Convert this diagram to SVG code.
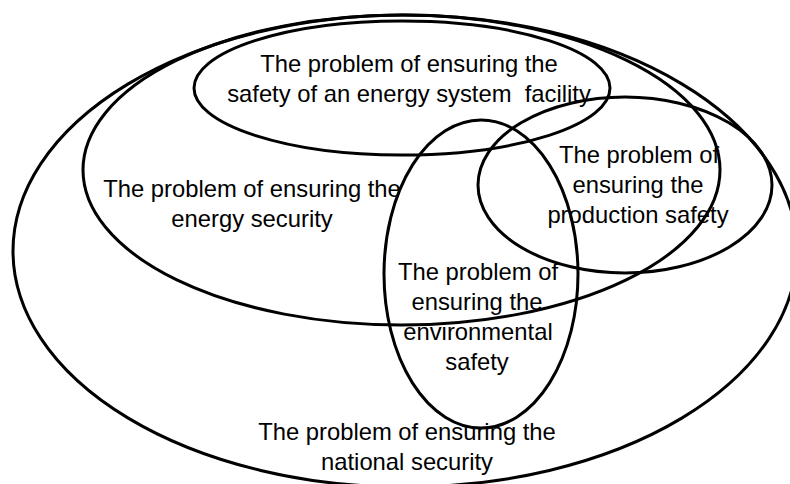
<svg xmlns="http://www.w3.org/2000/svg" width="790" height="484" viewBox="0 0 790 484">
  <style>
    .ring { fill: none; stroke: #000; stroke-width: 3; }
    .lbl { font-family: "Liberation Sans", Arial, sans-serif; font-size: 23.8px; fill: #000; text-anchor: middle; }
  </style>
  <rect width="790" height="484" fill="#fff"/>

  <!-- national security: outermost set -->
  <g id="national-security">
    <ellipse class="ring" cx="405" cy="251" rx="392" ry="236"/>
    <text class="lbl" x="407" y="440">The problem of ensuring the</text>
    <text class="lbl" x="407" y="470">national security</text>
  </g>

  <!-- energy security -->
  <g id="energy-security">
    <ellipse class="ring" cx="401.5" cy="170" rx="318.5" ry="155"/>
    <text class="lbl" x="252" y="197">The problem of ensuring the</text>
    <text class="lbl" x="252" y="227">energy security</text>
  </g>

  <!-- energy system facility -->
  <g id="facility-safety">
    <ellipse class="ring" cx="402" cy="88" rx="208" ry="67"/>
    <text class="lbl" x="409" y="72">The problem of ensuring the</text>
    <text class="lbl" x="409" y="102" xml:space="preserve">safety of an energy system  facility</text>
  </g>

  <!-- production safety -->
  <g id="production-safety">
    <ellipse class="ring" cx="625" cy="185" rx="147" ry="88"/>
    <text class="lbl" x="639" y="163">The problem of</text>
    <text class="lbl" x="638" y="193">ensuring the</text>
    <text class="lbl" x="638" y="223">production safety</text>
  </g>

  <!-- environmental safety -->
  <g id="environmental-safety">
    <ellipse class="ring" cx="481" cy="274" rx="97" ry="154"/>
    <text class="lbl" x="478" y="280">The problem of</text>
    <text class="lbl" x="477" y="310">ensuring the</text>
    <text class="lbl" x="478" y="340">environmental</text>
    <text class="lbl" x="477" y="370">safety</text>
  </g>

  <!-- no connectors in this set diagram -->
  <g id="connectors"/>
</svg>
